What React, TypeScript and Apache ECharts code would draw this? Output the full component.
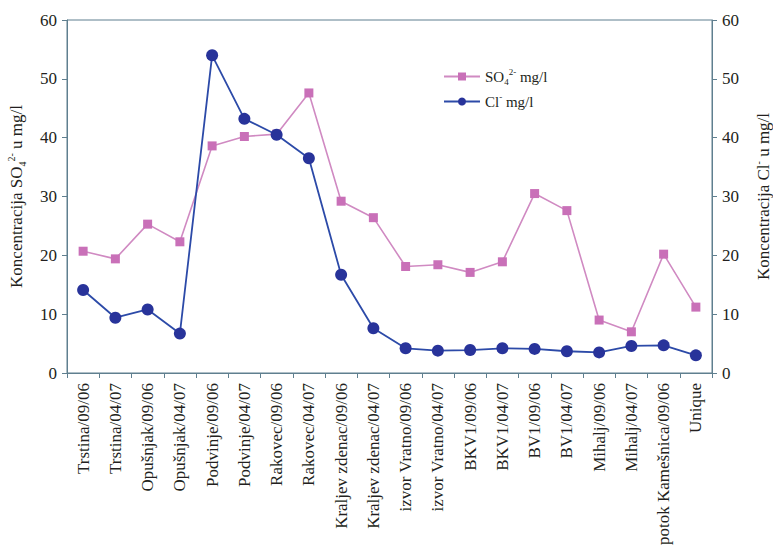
import React, { useEffect, useRef } from "react";
import * as echarts from "echarts";

const categories = [
  "Trstina/09/06", "Trstina/04/07", "Opušnjak/09/06", "Opušnjak/04/07",
  "Podvinje/09/06", "Podvinje/04/07", "Rakovec/09/06", "Rakovec/04/07",
  "Kraljev zdenac/09/06", "Kraljev zdenac/04/07", "izvor Vratno/09/06", "izvor Vratno/04/07",
  "BKV1/09/06", "BKV1/04/07", "BV1/09/06", "BV1/04/07",
  "Mihalj/09/06", "Mihalj/04/07", "potok Kamešnica/09/06", "Unique",
];
const so4Values = [20.7, 19.4, 25.3, 22.3, 38.6, 40.2, 40.6, 47.6, 29.2, 26.4, 18.1, 18.4, 17.1, 18.9, 30.5, 27.6, 9.0, 7.0, 20.2, 11.2];
const clValues = [14.1, 9.4, 10.8, 6.7, 54.0, 43.2, 40.5, 36.5, 16.7, 7.6, 4.2, 3.8, 3.9, 4.2, 4.1, 3.7, 3.5, 4.6, 4.7, 3.0];
const yTicks = { min: 0, max: 60, interval: 10 };

const FONT = "Liberation Serif";
const TEXT = "#231f20";
const AXIS = "#5f7f8f";

const subSup = (size: number) => ({
  base: { fontFamily: FONT, fontSize: size, color: TEXT, lineHeight: size + 4 },
  sub: { fontFamily: FONT, fontSize: Math.round(size * 0.6), color: TEXT, lineHeight: Math.round(size * 0.6), verticalAlign: "bottom" },
  sup: { fontFamily: FONT, fontSize: Math.round(size * 0.6), color: TEXT, lineHeight: Math.round(size * 0.6), verticalAlign: "top" },
});

export default function App() {
  const ref = useRef<HTMLDivElement>(null);
  useEffect(() => {
    const chart = echarts.init(ref.current!, null, { renderer: "svg" });
    const yAxisCommon = {
      type: "value",
      min: yTicks.min,
      max: yTicks.max,
      interval: yTicks.interval,
      splitLine: { show: false },
      axisLine: { show: true, lineStyle: { color: AXIS, width: 1 } },
      axisTick: { show: true, length: 5, lineStyle: { color: AXIS } },
      axisLabel: { fontFamily: FONT, fontSize: 17, color: TEXT, margin: 10 },
      nameLocation: "middle",
      nameRotate: 90,
    };
    chart.setOption({
      animation: false,
      backgroundColor: "#ffffff",
      grid: {
        left: 67, right: 61, top: 20, bottom: 181,
        show: true, borderColor: AXIS, borderWidth: 1,
        containLabel: false, outerBoundsMode: "none",
      },
      legend: {
        orient: "vertical",
        left: 438,
        top: 62,
        itemWidth: 36,
        itemHeight: 10,
        itemGap: 6,
        data: ["SO4", "Cl"],
        formatter: (name: string) => (name === "SO4" ? "{base|SO}{sub|4}{sup|2-}{base| mg/l}" : "{base|Cl}{sup|-}{base| mg/l}"),
        textStyle: { rich: subSup(15) },
      },
      xAxis: {
        type: "category",
        data: categories,
        boundaryGap: true,
        axisLine: { lineStyle: { color: AXIS } },
        axisTick: { show: true, length: 5, lineStyle: { color: AXIS } },
        axisLabel: { rotate: 90, interval: 0, fontFamily: FONT, fontSize: 17, color: TEXT, margin: 10 },
      },
      yAxis: [
        {
          ...yAxisCommon,
          position: "left",
          name: "{base|Koncentracija SO}{sub|4}{sup|2-}{base| u mg/l}",
          nameGap: 40,
          nameTextStyle: { rich: subSup(17) },
        },
        {
          ...yAxisCommon,
          position: "right",
          name: "{base|Koncentracija Cl}{sup|-}{base| u mg/l}",
          nameGap: 41,
          nameRotate: 90,
          nameTextStyle: { rich: subSup(17) },
        },
      ],
      series: [
        {
          name: "SO4",
          type: "line",
          yAxisIndex: 0,
          data: so4Values,
          symbol: "rect",
          symbolSize: 9,
          itemStyle: { color: "#c970b8" },
          lineStyle: { color: "#d08ac2", width: 1.6 },
        },
        {
          name: "Cl",
          type: "line",
          yAxisIndex: 1,
          data: clValues,
          symbol: "circle",
          symbolSize: 12,
          itemStyle: { color: "#28339a" },
          lineStyle: { color: "#2c4aa8", width: 1.8 },
          z: 3,
        },
      ],
    });
    return () => chart.dispose();
  }, []);
  return <div ref={ref} style={{ width: 773, height: 554, position: "absolute", left: 0, top: 0 }} />;
}
